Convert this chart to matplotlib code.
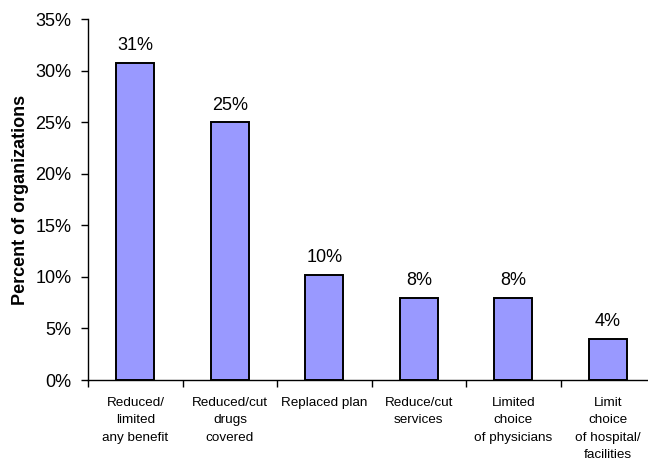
import numpy as np
import matplotlib.pyplot as plt
from matplotlib.ticker import FixedLocator, PercentFormatter

plt.rcParams['font.family'] = ['Liberation Sans', 'DejaVu Sans']

categories = ['Reduced/\nlimited\nany benefit', 'Reduced/cut\ndrugs\ncovered', 'Replaced plan',
              'Reduce/cut\nservices', 'Limited\nchoice\nof physicians', 'Limit\nchoice\nof hospital/\nfacilities']
values = [30.8, 25.0, 10.2, 8.0, 8.0, 4.0]
labels = ['31%', '25%', '10%', '8%', '8%', '4%']

fig = plt.figure(figsize=(6.48, 4.61), dpi=100)
ax = fig.add_axes([0.136, 0.1757, 0.875, 0.7823])

x = np.arange(len(categories))
ax.bar(x, values, width=0.4, color='#9999FF', edgecolor='black', linewidth=1.4)
for xi, v, lab in zip(x, values, labels):
    ax.text(xi, v + 1.25, lab, ha='center', va='baseline', fontsize=13)

ax.set_xlim(-0.5, len(categories) - 0.5)
ax.set_ylim(0, 35)
ax.set_yticks(np.arange(0, 36, 5))
ax.yaxis.set_major_formatter(PercentFormatter(decimals=0))
ax.tick_params(axis='y', labelsize=13, length=5, width=1, pad=7)

ax.set_xticks(x)
ax.set_xticklabels(categories, fontsize=9.7, linespacing=1.62, va='top')
ax.tick_params(axis='x', which='major', length=0, pad=12)
ax.xaxis.set_minor_locator(FixedLocator(np.arange(-0.5, len(categories), 1)))
ax.tick_params(axis='x', which='minor', length=5, width=1)

ax.set_ylabel('Percent of organizations', fontsize=13, fontweight='bold')
ax.yaxis.set_label_coords(-0.105, 0.5)

for s in ['top', 'right']:
    ax.spines[s].set_visible(False)
ax.spines['left'].set_linewidth(1)
ax.spines['bottom'].set_linewidth(1)

fig.savefig('out.png', dpi=100)
